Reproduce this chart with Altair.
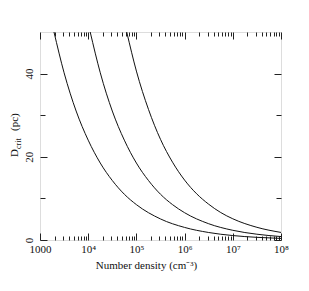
import altair as alt
import pandas as pd

# ---- data ----
n_1 = [1950, 3160, 5620, 1e4, 1.78e4, 3.16e4, 5.62e4, 1e5, 3.16e5, 1e6, 3.16e6, 1e7, 3.16e7, 1e8]
d_1 = [50, 40.2, 31.0, 24.0, 18.5, 14.3, 11.0, 8.5, 5.06, 3.02, 1.80, 1.07, 0.64, 0.38]

n_2 = [1.1e4, 1.78e4, 3.16e4, 5.62e4, 1e5, 1.78e5, 3.16e5, 5.62e5, 1e6, 3.16e6, 1e7, 3.16e7, 1e8]
d_2 = [50, 40.2, 31.0, 24.0, 18.5, 14.3, 11.0, 8.5, 6.56, 3.91, 2.33, 1.39, 0.83]

n_3 = [6.3e4, 1e5, 1.78e5, 3.16e5, 5.62e5, 1e6, 1.78e6, 3.16e6, 5.62e6, 1e7, 3.16e7, 1e8]
d_3 = [50, 40.6, 31.4, 24.2, 18.7, 14.4, 11.1, 8.6, 6.6, 5.1, 3.05, 1.82]

x_major = [1e3, 1e4, 1e5, 1e6, 1e7, 1e8]
x_labels = ["1000", "10\u2074", "10\u2075", "10\u2076", "10\u2077", "10\u2078"]
x_minor = [m * 10 ** k for k in range(3, 8) for m in range(2, 10)]
y_major = [0, 20, 40]
y_minor = [10, 30]

x_title = "Number density (cm\u207b\u00b3)"
y_title_parts = ["D", "crit", "(pc)"]

rows = []
for name, ns, ds in (("a", n_1, d_1), ("b", n_2, d_2), ("c", n_3, d_3)):
    for n, d in zip(ns, ds):
        rows.append({"curve": name, "n": n, "d": d})
df = pd.DataFrame(rows)

FONT = "Liberation Serif"

# label expression built from the label lists
expr = "''"
for v, lab in reversed(list(zip(x_major, x_labels))):
    expr = f"datum.value < {v * 2} ? '{lab}' : ({expr})"

xscale = alt.Scale(type="log", domain=[1e3, 1e8], nice=False)
yscale = alt.Scale(domain=[0, 50], nice=False, zero=False)

def x_axis(orient, values, size, labels=False, **kw):
    return alt.Axis(orient=orient, values=values, tickSize=size, offset=-size,
                    domain=False, grid=False, labels=labels, tickColor="#222",
                    tickWidth=1, **kw)

def y_axis(orient, values, size, labels=False, **kw):
    return alt.Axis(orient=orient, values=values, tickSize=size, offset=-size,
                    domain=False, grid=False, labels=labels, tickColor="#222",
                    tickWidth=1, **kw)

base = alt.Chart(df)

lines = base.mark_line(color="#111", strokeWidth=1, interpolate="monotone").encode(
    x=alt.X("n:Q", scale=xscale,
            axis=x_axis("bottom", x_major, 7, labels=True, labelExpr=expr,
                        labelFont=FONT, labelFontSize=11, labelColor="#111",
                        labelPadding=3, labelFlush=False, labelOverlap=False,
                        title=x_title, titleFont=FONT, titleFontSize=11,
                        titleFontWeight="normal", titleColor="#111",
                        titleX=106, titlePadding=5)),
    y=alt.Y("d:Q", scale=yscale,
            axis=y_axis("left", y_major, 7, labels=True, labelAngle=270,
                        labelAlign="center", labelBaseline="bottom",
                        labelFont=FONT, labelFontSize=11, labelColor="#111",
                        labelPadding=6, labelFlush=False, labelOverlap=False,
                        title=None)),
    detail="curve:N",
)

def ghost(xa, ya):
    return base.mark_line(opacity=0).encode(
        x=alt.X("n:Q", scale=xscale, axis=xa),
        y=alt.Y("d:Q", scale=yscale, axis=ya),
        detail="curve:N",
    )

g2 = ghost(x_axis("bottom", x_minor, 4, title=None), y_axis("left", y_minor, 5, title=None))
g3 = ghost(x_axis("top", x_major, 7, title=None), y_axis("right", y_major, 7, title=None))
g4 = ghost(x_axis("top", x_minor, 4, title=None), y_axis("right", y_minor, 5, title=None))

def title_piece(text, size, px, py):
    return alt.Chart(alt.Data(values=[{"t": text}])).mark_text(
        font=FONT, fontSize=size, angle=270, align="left", baseline="middle",
        color="#111").encode(text="t:N", x=alt.value(px), y=alt.value(py))

t_d = title_piece(y_title_parts[0], 11, -25, 125)
t_crit = title_piece(y_title_parts[1], 8, -21, 117)
t_pc = title_piece(y_title_parts[2], 11, -25, 99)

chart = alt.layer(lines, g2, g3, g4, t_d, t_crit, t_pc).resolve_axis(
    x="independent", y="independent"
).properties(
    width=241, height=208,
    autosize=alt.AutoSizeParams(type="none"),
    padding={"left": 32, "top": 24, "right": 20, "bottom": 45},
).configure_view(stroke="#222", strokeWidth=1).configure(background="white")

chart.save("out.html", embed_options={"renderer": "svg", "actions": False})
